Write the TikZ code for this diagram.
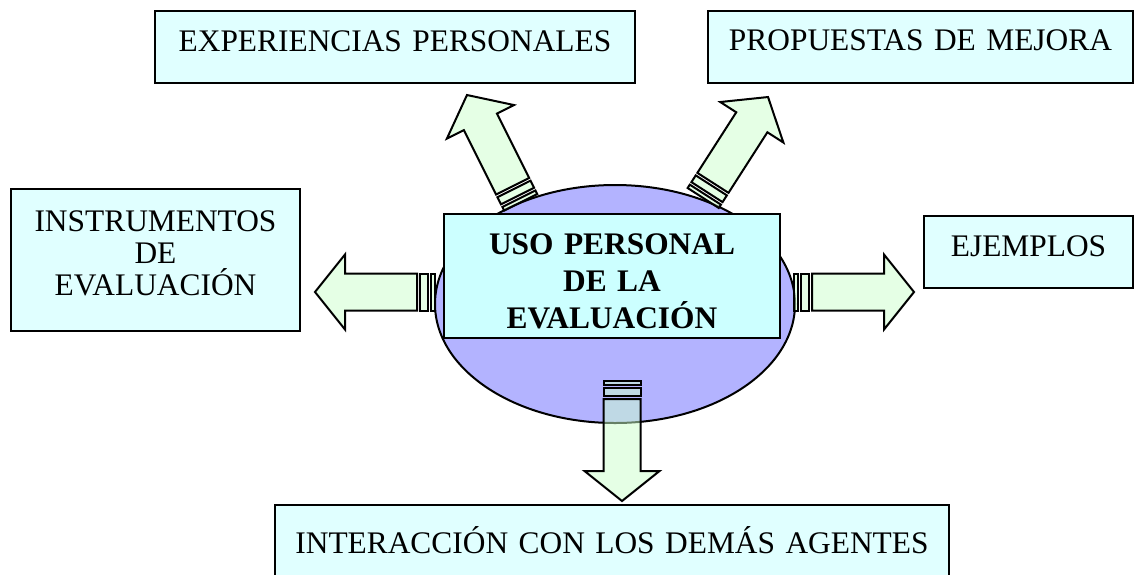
\documentclass[tikz,border=0pt]{standalone}
\usepackage{fontspec}
\setmainfont{Liberation Serif}
\usetikzlibrary{shapes.geometric}
\definecolor{boxcyan}{HTML}{E0FFFF}
\definecolor{hubcyan}{HTML}{CCFFFF}
\definecolor{hubblue}{HTML}{B3B3FF}
\definecolor{arrowgreen}{HTML}{CCFFCC}
\tikzset{
	tbox/.style={draw, line width=1pt, fill=boxcyan, anchor=north west, inner sep=0pt, align=center, font=\fontsize{15.7}{16}\selectfont},
	arrowline/.style={draw, line width=1pt, fill=arrowgreen, fill opacity=0.5, line join=miter},
	pics/fatarrow/.style={code={
		\draw[arrowline] (0,-18.5) rectangle (4,18.5);
		\draw[arrowline] (7,-18.5) rectangle (15,18.5);
		\draw[arrowline] (18,-18.5) -- (90,-18.5) -- (90,-37.5) -- (120,0) -- (90,37.5) -- (90,18.5) -- (18,18.5) -- cycle;
	}}
}

\begin{document}
\begin{tikzpicture}[x=0.5pt, y=-0.5pt]
			\useasboundingbox (0,0) rectangle (1134,574);
			\node[ellipse, draw, line width=1pt, fill=hubblue, minimum width=180pt, minimum height=119pt, inner sep=0pt] (hub) at (615,304) {};
			\pic[rotate=180] at (435,292) {fatarrow};
			\pic at (794,292) {fatarrow};
			\pic[rotate=-90] at (622,381) {fatarrow};
			\pic[rotate=116.6] at (520.7,202.3) {fatarrow};
			\pic[rotate=57.3] at (703.2,198) {fatarrow};
			\node[tbox, text width=240pt, text height=20pt, text depth=16pt] (exper) at (154,10) {EXPERIENCIAS PERSONALES};
			\node[tbox, text width=212.5pt, text height=19.5pt, text depth=16.5pt] (propu) at (707,10) {PROPUESTAS DE MEJORA};
			\node[tbox, text width=144.5pt, text height=21pt, text depth=50pt] (instr) at (10,188) {INSTRUMENTOS\\DE\\EVALUACIÓN};
			\node[tbox, text width=104.5pt, text height=20pt, text depth=16pt] (ejemp) at (923,215) {EJEMPLOS};
			\node[tbox, text width=337pt, text height=24pt, text depth=24pt] (inter) at (274,504) {INTERACCIÓN CON LOS DEMÁS AGENTES};
			\node[tbox, fill=hubcyan, font=\bfseries\fontsize{15.7}{18.5}\selectfont, text width=168pt, text height=20pt, text depth=42pt] (uso) at (443,213) {USO PERSONAL\\DE LA\\EVALUACIÓN};
\end{tikzpicture}
\end{document}
